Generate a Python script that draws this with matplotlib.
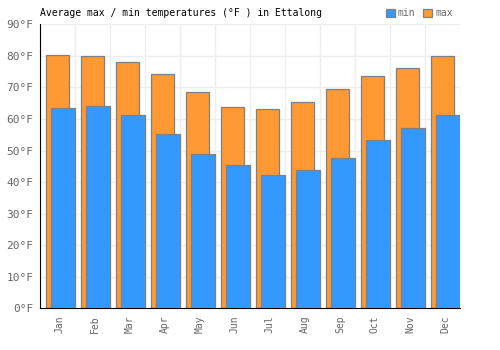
import matplotlib.pyplot as plt
import numpy as np

months = ['Jan', 'Feb', 'Mar', 'Apr', 'May', 'Jun', 'Jul', 'Aug', 'Sep', 'Oct', 'Nov', 'Dec']
max_temp = [80.4, 80.1, 77.9, 74.1, 68.4, 63.7, 63.1, 65.3, 69.4, 73.5, 76.0, 79.8]
min_temp = [63.4, 64.1, 61.2, 55.2, 48.9, 45.3, 42.2, 43.7, 47.8, 53.2, 57.0, 61.2]
y_ticks = [0, 10, 20, 30, 40, 50, 60, 70, 80, 90]

plt.rcParams['font.family'] = ['DejaVu Sans Mono']

fig = plt.figure(figsize=(5, 3.5), dpi=100)
ax = fig.add_axes([0.0806, 0.1186, 0.84, 0.812])

x = np.arange(len(months))
edge = '#808080'
ax.bar(x, max_temp, width=0.667, color='#ff9933', edgecolor=edge, linewidth=0.9, label='max', zorder=2)
ax.bar(x + 0.15, min_temp, width=0.7, color='#3399ff', edgecolor=edge, linewidth=0.9, label='min', zorder=3)

ax.set_xlim(-0.5, 11.5)
ax.set_ylim(0, 90)
ax.set_yticks(y_ticks)
ax.set_yticklabels([f'{t}°F' for t in y_ticks], fontsize=8, color='#666666')
ax.set_xticks(x + 0.06)
ax.set_xticklabels(months, rotation=90, fontsize=7, color='#666666')
ax.tick_params(axis='both', length=0, pad=5)

# vertical grid on month boundaries, horizontal on ticks
ax.set_xticks(np.arange(-0.5, 12, 1), minor=True)
ax.grid(True, which='minor', axis='x', color='#eeeeee', linewidth=1, zorder=0)
ax.grid(True, which='major', axis='y', color='#eeeeee', linewidth=1, zorder=0)
ax.set_axisbelow(True)
ax.tick_params(which='minor', length=0)

for s in ['top', 'right']:
    ax.spines[s].set_visible(False)
ax.spines['left'].set_color('black')
ax.spines['bottom'].set_color('black')

fig.text(0.08, 0.962, 'Average max / min temperatures (°F ) in Ettalong', fontsize=7, va='center', ha='left')

handles, labels = ax.get_legend_handles_labels()
leg = fig.legend(handles[::-1], labels[::-1], loc='center right', bbox_to_anchor=(0.915, 0.962), ncol=2,
                 frameon=False, fontsize=7, handlelength=0.9, handleheight=0.9, handletextpad=0.3,
                 columnspacing=0.8, borderpad=0)
for t in leg.get_texts():
    t.set_color('#666666')

fig.savefig('out.png', dpi=100)
